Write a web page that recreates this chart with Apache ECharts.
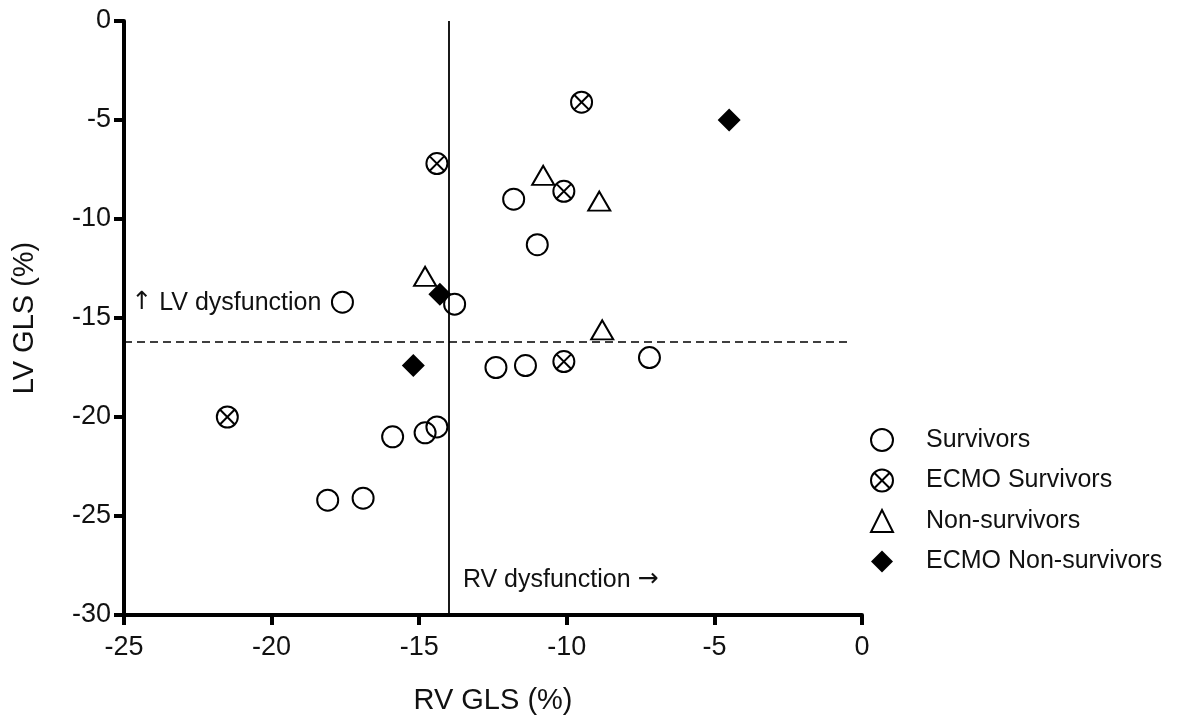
<!DOCTYPE html>
<html>
<head>
<meta charset="utf-8">
<script src="https://cdn.jsdelivr.net/npm/echarts@6/dist/echarts.min.js"></script>
<style>
  html, body { margin: 0; padding: 0; background: #fff; }
  #chart { width: 1183px; height: 720px; }
</style>
</head>
<body>
<div id="chart"></div>
<script>
// ---- Data ----
const seriesNames = ['Survivors', 'ECMO Survivors', 'Non-survivors', 'ECMO Non-survivors'];

const survivorsRV = [-17.6, -13.8, -11.8, -11.0, -12.4, -11.4, -7.2, -15.9, -14.8, -14.4, -18.1, -16.9];
const survivorsLV = [-14.2, -14.3, -9.0, -11.3, -17.5, -17.4, -17.0, -21.0, -20.8, -20.5, -24.2, -24.1];

const ecmoSurvivorsRV = [-9.5, -14.4, -10.1, -10.1, -21.5];
const ecmoSurvivorsLV = [-4.1, -7.2, -8.6, -17.2, -20.0];

const nonSurvivorsRV = [-10.8, -8.9, -14.8, -8.8];
const nonSurvivorsLV = [-7.8, -9.1, -12.9, -15.6];

const ecmoNonSurvivorsRV = [-4.5, -14.3, -15.2];
const ecmoNonSurvivorsLV = [-5.0, -13.8, -17.4];

const rvCutoff = -14;      // vertical reference line (RV GLS)
const lvCutoff = -16.2;    // horizontal dashed reference line (LV GLS)
const lvCutoffEnd = -0.4;  // dashed line stops just short of the axis end

const xTicks = { min: -25, max: 0, interval: 5 };
const yTicks = { min: -30, max: 0, interval: 5 };

const annotations = [
  { text: '{a|\u2191} LV dysfunction', at: [-24.75, -14.24] },
  { text: 'RV dysfunction {a|\u2192}', at: [-13.52, -28.23] }
];

// ---- Chart ----
const FONT = '"Liberation Sans", Arial, Helvetica, sans-serif';
const INK = '#111';

function pairs(xs, ys) { return xs.map((x, i) => [x, ys[i]]); }

const crossCircle = 'path://M0,10 A10,10 0 1,1 20,10 A10,10 0 1,1 0,10 Z M2.93,2.93 L17.07,17.07 M17.07,2.93 L2.93,17.07';

const chart = echarts.init(document.getElementById('chart'), null, { renderer: 'canvas' });

const baseAxis = {
  type: 'value',
  axisLine: { show: true, onZero: false, lineStyle: { color: '#000', width: 4 } },
  axisTick: { show: true, inside: false, length: 10, lineStyle: { color: '#000', width: 4 } },
  splitLine: { show: false },
  axisLabel: { color: INK, fontFamily: FONT, fontSize: 27 },
  nameLocation: 'middle',
  nameTextStyle: { color: INK, fontFamily: FONT, fontSize: 29 }
};

const option = {
  backgroundColor: '#fff',
  animation: false,
  grid: { left: 124, right: 321, top: 21, bottom: 105, containLabel: false },
  xAxis: Object.assign({}, baseAxis, {
    min: xTicks.min, max: xTicks.max, interval: xTicks.interval,
    name: 'RV GLS (%)', nameGap: 71,
    axisLabel: Object.assign({}, baseAxis.axisLabel, { margin: 19 })
  }),
  yAxis: Object.assign({}, baseAxis, {
    min: yTicks.min, max: yTicks.max, interval: yTicks.interval,
    name: 'LV GLS (%)', nameGap: 85,
    axisLabel: Object.assign({}, baseAxis.axisLabel, { margin: 13 })
  }),
  legend: {
    orient: 'vertical',
    left: 865, top: 422.5,
    itemWidth: 22, itemHeight: 22, itemGap: 15.5,
    data: seriesNames,
    textStyle: { color: INK, fontFamily: FONT, fontSize: 25, padding: [0, 0, 0, 28] }
  },
  series: [
    {
      name: seriesNames[0], type: 'scatter', symbol: 'circle', symbolSize: 21,
      itemStyle: { color: 'rgba(255,255,255,0)', borderColor: '#000', borderWidth: 2, opacity: 1 },
      data: pairs(survivorsRV, survivorsLV),
      z: 3,
      markLine: {
        silent: true, symbol: 'none', label: { show: false },
        data: [
          { xAxis: rvCutoff, lineStyle: { color: '#000', width: 1.8, type: 'solid' } },
          [
            { coord: [xTicks.min, lvCutoff], lineStyle: { color: '#000', width: 1.6, type: [8, 5] } },
            { coord: [lvCutoffEnd, lvCutoff] }
          ]
        ]
      }
    },
    {
      name: seriesNames[1], type: 'scatter', symbol: crossCircle, symbolSize: 21,
      itemStyle: { color: '#fff', borderColor: '#000', borderWidth: 2, opacity: 1 },
      data: pairs(ecmoSurvivorsRV, ecmoSurvivorsLV),
      z: 4
    },
    {
      name: seriesNames[2], type: 'scatter', symbol: 'triangle', symbolSize: [22, 19],
      itemStyle: { color: '#fff', borderColor: '#000', borderWidth: 2, opacity: 1 },
      data: pairs(nonSurvivorsRV, nonSurvivorsLV),
      z: 4
    },
    {
      name: seriesNames[3], type: 'scatter', symbol: 'diamond', symbolSize: 23,
      itemStyle: { color: '#000', borderColor: '#000', borderWidth: 0, opacity: 1 },
      data: pairs(ecmoNonSurvivorsRV, ecmoNonSurvivorsLV),
      z: 5
    }
  ]
};

chart.setOption(option);

const graphics = annotations.map(a => {
  const p = chart.convertToPixel({ gridIndex: 0 }, a.at);
  return {
    type: 'text', x: p[0], y: p[1], silent: true,
    style: {
      text: a.text, fill: INK, fontFamily: FONT, fontSize: 25,
      align: 'left', verticalAlign: 'middle',
      rich: { a: { fontFamily: '"DejaVu Sans", sans-serif', fontSize: 25, fill: INK } }
    }
  };
});
chart.setOption({ graphic: graphics });
</script>
</body>
</html>
